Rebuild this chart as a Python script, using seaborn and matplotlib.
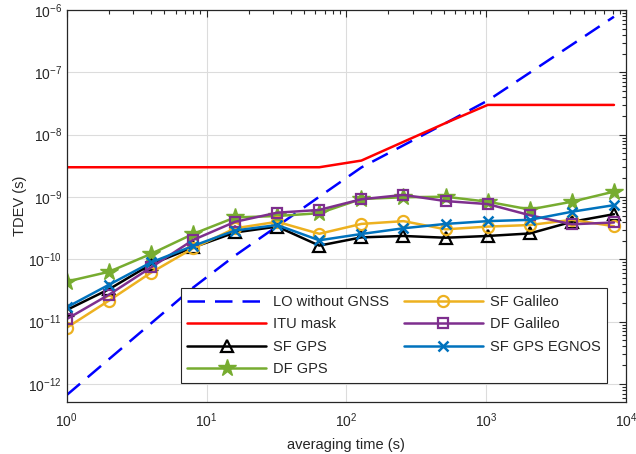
import numpy as np
import pandas as pd
import matplotlib
matplotlib.use("Agg")
import matplotlib.pyplot as plt
import seaborn as sns
from matplotlib.ticker import FixedLocator, NullFormatter, LogFormatterSciNotation

# Averaging times (s)
tau = [1, 2, 4, 8, 16, 32, 64, 128, 256, 512, 1024, 2048, 4096, 8192]

# Free-running local oscillator TDEV (s)
lo_without_gnss = [6.65e-13, 2.49e-12, 9.35e-12, 3.51e-11, 1.15e-10, 3.40e-10,
                   1.01e-09, 2.98e-09, 6.75e-09, 1.53e-08, 3.52e-08, 9.86e-08,
                   2.77e-07, 7.80e-07]
# ITU TDEV mask (s)
itu_mask = [3e-9, 3e-9, 3e-9, 3e-9, 3e-9, 3e-9, 3e-9, 3.84e-9, 7.68e-9,
            1.536e-8, 3e-8, 3e-8, 3e-8, 3e-8]
# GNSS-disciplined TDEV (s)
sf_gps = [1.54e-11, 3.3e-11, 8.3e-11, 1.55e-10, 2.7e-10, 3.35e-10, 1.66e-10,
          2.25e-10, 2.37e-10, 2.22e-10, 2.37e-10, 2.6e-10, 4.0e-10, 5.3e-10]
df_gps = [4.4e-11, 6.3e-11, 1.22e-10, 2.55e-10, 4.7e-10, 4.95e-10, 5.5e-10,
          9.3e-10, 9.9e-10, 1.01e-09, 8.4e-10, 6.3e-10, 8.4e-10, 1.22e-09]
sf_galileo = [8.0e-12, 2.17e-11, 6.1e-11, 1.5e-10, 3.15e-10, 4.0e-10, 2.57e-10,
              3.7e-10, 4.1e-10, 3.03e-10, 3.35e-10, 3.55e-10, 4.3e-10, 3.4e-10]
df_galileo = [1.1e-11, 2.7e-11, 7.4e-11, 2.04e-10, 4.0e-10, 5.6e-10, 6.2e-10,
              9.2e-10, 1.08e-09, 8.6e-10, 7.7e-10, 5.1e-10, 3.65e-10, 3.9e-10]
sf_gps_egnos = [1.7e-11, 3.9e-11, 8.9e-11, 1.64e-10, 2.9e-10, 3.55e-10, 2.02e-10,
                2.55e-10, 3.15e-10, 3.7e-10, 4.1e-10, 4.3e-10, 5.8e-10, 7.4e-10]

x_major = [1e0, 1e1, 1e2, 1e3, 1e4]
y_major = [1e-12, 1e-11, 1e-10, 1e-9, 1e-8, 1e-7, 1e-6]

sns.set_theme(style="white")
plt.rcParams["font.family"] = ["Liberation Sans", "DejaVu Sans"]
plt.rcParams["mathtext.fontset"] = "custom"
plt.rcParams["mathtext.rm"] = "Liberation Sans"
plt.rcParams["mathtext.it"] = "Liberation Sans:italic"

fig = plt.figure(figsize=(6.36, 4.54), dpi=100)
ax = fig.add_axes([0.1049, 0.1152, 0.8795, 0.8628])
ax.set_xscale("log")
ax.set_yscale("log")

df = pd.DataFrame({"tau": tau})

series = [
    ("LO without GNSS", lo_without_gnss, dict(color="#0000FF", linestyle=(0, (7, 4)), linewidth=1.8)),
    ("ITU mask", itu_mask, dict(color="#FF0000", linewidth=1.8)),
    ("SF GPS", sf_gps, dict(color="black", linewidth=1.8, marker="^", markersize=9,
                            markerfacecolor="none", markeredgecolor="black", markeredgewidth=1.6)),
    ("DF GPS", df_gps, dict(color="#77AC30", linewidth=1.8, marker="*", markersize=13,
                            markerfacecolor="#77AC30", markeredgecolor="#77AC30", markeredgewidth=1.0)),
    ("SF Galileo", sf_galileo, dict(color="#EDB120", linewidth=1.8, marker="o", markersize=8,
                                    markerfacecolor="none", markeredgecolor="#EDB120", markeredgewidth=1.6)),
    ("DF Galileo", df_galileo, dict(color="#7E2F8E", linewidth=1.8, marker="s", markersize=7,
                                    markerfacecolor="none", markeredgecolor="#7E2F8E", markeredgewidth=1.6)),
    ("SF GPS EGNOS", sf_gps_egnos, dict(color="#0072BD", linewidth=1.8, marker="x", markersize=7,
                                        markeredgecolor="#0072BD", markeredgewidth=1.8)),
]

for name, vals, style in series:
    df[name] = vals
    sns.lineplot(data=df, x="tau", y=name, ax=ax, label=name, **style)

ax.set_xlim(1, 1e4)
ax.set_ylim(5.2e-13, 1e-6)
ax.set_xlabel("averaging time (s)", fontsize=10.5, color="#262626", labelpad=6)
ax.set_ylabel("TDEV (s)", fontsize=10.5, color="#262626", labelpad=1)

x_minor = [m * d for d in x_major[:-1] for m in range(2, 10)]
y_minor = [m * d for d in [1e-13] + y_major[:-1] for m in range(2, 10)]
y_minor = [v for v in y_minor if v >= 5.2e-13]
ax.xaxis.set_major_locator(FixedLocator(x_major))
ax.yaxis.set_major_locator(FixedLocator(y_major))
ax.xaxis.set_major_formatter(LogFormatterSciNotation())
ax.yaxis.set_major_formatter(LogFormatterSciNotation())
ax.xaxis.set_minor_locator(FixedLocator(x_minor))
ax.yaxis.set_minor_locator(FixedLocator(y_minor))
ax.xaxis.set_minor_formatter(NullFormatter())
ax.yaxis.set_minor_formatter(NullFormatter())
ax.tick_params(which="both", direction="in", top=True, right=True, colors="#262626",
               labelsize=10, width=0.8)
ax.tick_params(which="major", length=5)
ax.tick_params(which="minor", length=3)
ax.tick_params(axis="x", which="major", pad=7)
ax.grid(True, which="major", color="#dcdcdc", linewidth=0.8)
for sp in ax.spines.values():
    sp.set_color("#262626")
    sp.set_linewidth(0.9)

leg = ax.legend(ncol=2, loc="lower right", fontsize=10.5, handlelength=5.4,
                borderaxespad=1.3, fancybox=False, edgecolor="#262626",
                framealpha=1, columnspacing=1.0, handletextpad=0.5,
                labelspacing=0.58, borderpad=0.45)
leg.get_frame().set_linewidth(0.8)

fig.savefig("out.png", dpi=100)
